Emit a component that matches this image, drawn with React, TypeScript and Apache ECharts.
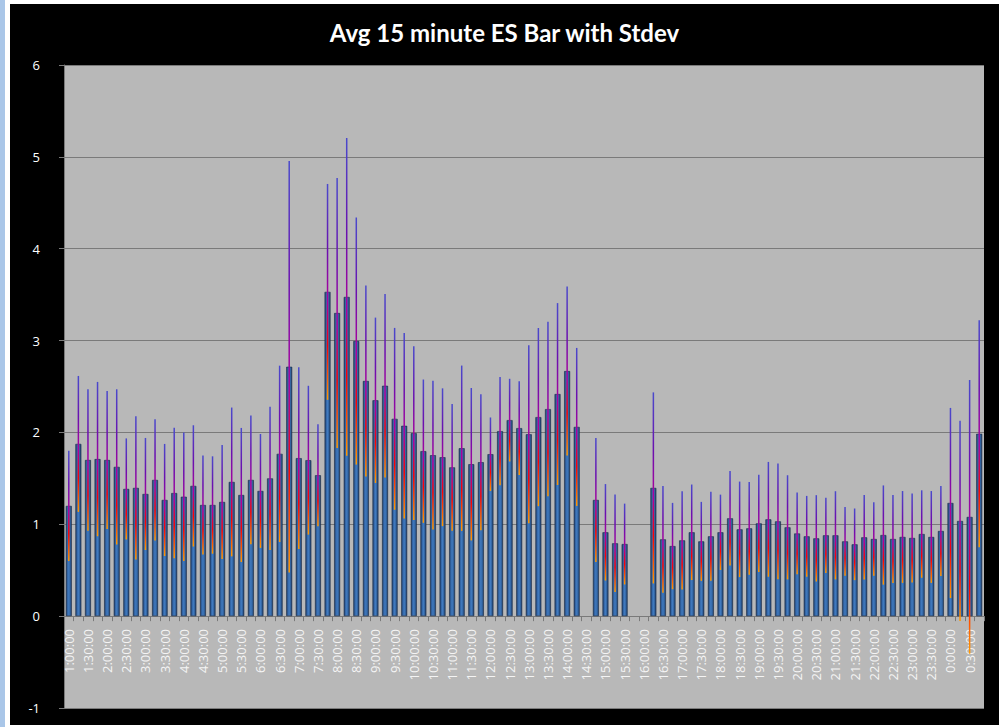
import React, { useEffect, useRef } from "react";
import * as echarts from "echarts";

const categories: string[] = [
  "1:00:00","1:15:00","1:30:00","1:45:00","2:00:00","2:15:00","2:30:00","2:45:00",
  "3:00:00","3:15:00","3:30:00","3:45:00","4:00:00","4:15:00","4:30:00","4:45:00",
  "5:00:00","5:15:00","5:30:00","5:45:00","6:00:00","6:15:00","6:30:00","6:45:00",
  "7:00:00","7:15:00","7:30:00","7:45:00","8:00:00","8:15:00","8:30:00","8:45:00",
  "9:00:00","9:15:00","9:30:00","9:45:00","10:00:00","10:15:00","10:30:00","10:45:00",
  "11:00:00","11:15:00","11:30:00","11:45:00","12:00:00","12:15:00","12:30:00","12:45:00",
  "13:00:00","13:15:00","13:30:00","13:45:00","14:00:00","14:15:00","14:30:00","14:45:00",
  "15:00:00","15:15:00","15:30:00","15:45:00","16:00:00","16:15:00","16:30:00","16:45:00",
  "17:00:00","17:15:00","17:30:00","17:45:00","18:00:00","18:15:00","18:30:00","18:45:00",
  "19:00:00","19:15:00","19:30:00","19:45:00","20:00:00","20:15:00","20:30:00","20:45:00",
  "21:00:00","21:15:00","21:30:00","21:45:00","22:00:00","22:15:00","22:30:00","22:45:00",
  "23:00:00","23:15:00","23:30:00","23:45:00","0:00:00","0:15:00","0:30:00","0:45:00",
];

const avgRange: (number | null)[] = [
  1.2, 1.875, 1.7, 1.71, 1.7, 1.625, 1.385, 1.396,
  1.33, 1.483, 1.265, 1.34, 1.3, 1.418, 1.21, 1.21,
  1.243, 1.461, 1.319, 1.483, 1.363, 1.5, 1.767, 2.715,
  1.72, 1.698, 1.534, 3.53, 3.3, 3.475, 2.995, 2.56,
  2.35, 2.508, 2.148, 2.072, 1.992, 1.796, 1.752, 1.73,
  1.62, 1.828, 1.654, 1.676, 1.763, 2.014, 2.134, 2.047,
  1.98, 2.167, 2.254, 2.418, 2.668, 2.06, null, 1.265,
  0.913, 0.793, 0.785, null, null, 1.396, 0.836, 0.763,
  0.825, 0.913, 0.814, 0.869, 0.913, 1.065, 0.945, 0.956,
  1.01, 1.054, 1.032, 0.967, 0.9, 0.869, 0.847, 0.88,
  0.88, 0.814, 0.782, 0.858, 0.84, 0.883, 0.84, 0.862,
  0.851, 0.894, 0.862, 0.927, 1.232, 1.036, 1.08, 1.985,
];

const stdev: (number | null)[] = [
  0.6, 0.74, 0.77, 0.84, 0.75, 0.845, 0.55, 0.78,
  0.61, 0.66, 0.61, 0.71, 0.7, 0.66, 0.54, 0.53,
  0.62, 0.81, 0.73, 0.7, 0.62, 0.78, 0.96, 2.24,
  0.99, 0.81, 0.555, 1.175, 1.47, 1.73, 1.345, 1.04,
  0.9, 1.0, 0.99, 1.01, 0.945, 0.78, 0.81, 0.75,
  0.69, 0.9, 0.83, 0.74, 0.4, 0.59, 0.45, 0.51,
  0.97, 0.97, 0.95, 0.99, 0.92, 0.86, null, 0.675,
  0.525, 0.53, 0.44, null, null, 1.04, 0.58, 0.47,
  0.535, 0.52, 0.43, 0.485, 0.41, 0.515, 0.52, 0.505,
  0.53, 0.625, 0.63, 0.567, 0.445, 0.44, 0.47, 0.41,
  0.48, 0.375, 0.39, 0.46, 0.4, 0.54, 0.48, 0.5,
  0.485, 0.476, 0.5, 0.49, 1.035, 1.09, 1.49, 1.235,
];

const yTicks = { min: -1, max: 6, interval: 1 };
const titleText = "Avg 15 minute ES Bar with Stdev";

export default function App() {
  const ref = useRef<HTMLDivElement>(null);

  useEffect(() => {
    if (!ref.current) return;
    const chart = echarts.init(ref.current, undefined, { renderer: "svg" });

    const errData = avgRange
      .map((v, i) => (v == null || stdev[i] == null ? null : [i, v, stdev[i] as number]))
      .filter((d) => d !== null);

    const barGradient = new echarts.graphic.LinearGradient(0, 0, 1, 0, [
      { offset: 0, color: "#1E3A62" },
      { offset: 0.25, color: "#3264A4" },
      { offset: 0.5, color: "#417BC0" },
      { offset: 0.8, color: "#2F5E98" },
      { offset: 1, color: "#1C355A" },
    ]);

    chart.setOption({
      animation: false,
      backgroundColor: "#000000",
      title: {
        text: titleText,
        left: "center",
        top: 11,
        textStyle: {
          color: "#FFFFFF",
          fontSize: 24,
          fontWeight: "bold",
          fontFamily: "Lato",
        },
      },
      grid: {
        left: 54,
        top: 61,
        width: 920,
        height: 643,
        show: true,
        backgroundColor: "#B8B8B8",
        borderWidth: 0,
        containLabel: false,
        outerBoundsMode: "none",
      },
      xAxis: {
        type: "category",
        data: categories,
        boundaryGap: true,
        axisLine: { onZero: true, lineStyle: { color: "#7A7A7A", width: 1 } },
        axisTick: { show: true, interval: 0, length: 5, lineStyle: { color: "#7A7A7A" } },
        axisLabel: {
          interval: 1,
          rotate: 90,
          margin: -79,
          color: "#F4F4F4",
          fontSize: 13,
          fontFamily: "Open Sans",
        },
        splitLine: { show: false },
      },
      yAxis: {
        type: "value",
        min: yTicks.min,
        max: yTicks.max,
        interval: yTicks.interval,
        axisLine: { show: true, lineStyle: { color: "#7A7A7A" } },
        axisTick: { show: true, length: 5, lineStyle: { color: "#7A7A7A" } },
        axisLabel: {
          color: "#FFFFFF",
          fontSize: 13,
          fontFamily: "Open Sans",
          margin: 24,
        },
        splitLine: { show: true, lineStyle: { color: "#7A7A7A", width: 1 } },
      },
      series: [
        {
          type: "bar",
          data: avgRange,
          barWidth: "62%",
          itemStyle: {
            color: barGradient,
            borderColor: "#1A2E4C",
            borderWidth: 0.6,
          },
          z: 2,
        },
        {
          type: "custom",
          data: errData,
          encode: { x: 0, y: 1 },
          z: 3,
          renderItem: (params: any, api: any) => {
            const idx = api.value(0);
            const v = api.value(1);
            const s = api.value(2);
            const top = api.coord([idx, v + s]);
            const bot = api.coord([idx, v - s]);
            return {
              type: "rect",
              shape: { x: top[0] - 0.75, y: top[1], width: 1.5, height: bot[1] - top[1] },
              style: {
                fill: new echarts.graphic.LinearGradient(0, 0, 0, 1, [
                  { offset: 0, color: "#4A4ACC" },
                  { offset: 0.3, color: "#6A10B0" },
                  { offset: 0.55, color: "#B0009A" },
                  { offset: 0.75, color: "#FF0000" },
                  { offset: 1, color: "#FF9A00" },
                ]),
              },
            };
          },
        },
      ],
    });

    return () => chart.dispose();
  }, []);

  return (
    <div
      style={{
        position: "fixed",
        left: 0,
        top: 0,
        width: 999,
        height: 727,
        background: "#FFFFFF",
        overflow: "hidden",
      }}
    >
      <div style={{ position: "absolute", left: 0, top: 0, width: 5, height: 727, background: "#A9C6E8" }} />
      <div
        ref={ref}
        style={{ position: "absolute", left: 10, top: 4, width: 989, height: 721, background: "#000000" }}
      />
    </div>
  );
}
